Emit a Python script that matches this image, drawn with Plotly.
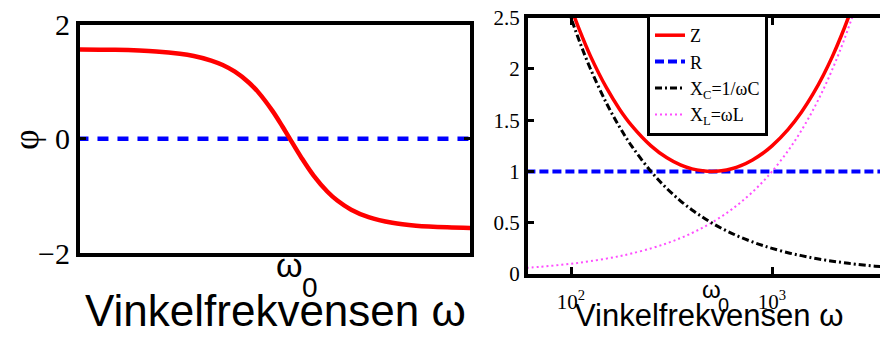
import numpy as np
import plotly.graph_objects as go

# ---------------- data ----------------
# left panel: phase angle vs angular frequency (log axis)
omega_left = [1, 3, 10, 20, 30, 50, 70, 100, 150, 200, 300, 400, 500, 700,
              1000, 1500, 2000, 3000, 5000, 10000, 20000, 50000, 100000]
phi_left = [1.567, 1.559, 1.531, 1.491, 1.451, 1.372, 1.293, 1.176, 0.988, 0.810,
            0.490, 0.221, 0.0, -0.330, -0.644, -0.927, -1.081, -1.241, -1.372,
            -1.471, -1.521, -1.551, -1.561]
omega_zero = [1, 100000]
zero_left = [0, 0]

# right panel: impedance components vs angular frequency (log axis)
omega_z = [90, 100, 110, 125, 150, 175, 200, 250, 300, 350, 400, 450, 500, 560,
           630, 700, 800, 900, 1000, 1200, 1400, 1600, 1800, 2000, 2200, 2400, 2600]
Z_vals = [2.868, 2.600, 2.383, 2.125, 1.817, 1.603, 1.450, 1.250, 1.133, 1.064,
          1.025, 1.006, 1.000, 1.007, 1.027, 1.057, 1.113, 1.178, 1.250, 1.409,
          1.578, 1.756, 1.939, 2.125, 2.314, 2.504, 2.696]

omega_r = [60, 4000]
R_vals = [1, 1]

omega_x = [60, 70, 80, 90, 100, 110, 125, 150, 175, 200, 250, 300, 350, 400, 450,
           500, 560, 630, 700, 800, 900, 1000, 1200, 1400, 1600, 1800, 2000, 2200,
           2400, 2600, 3000, 3600, 4000]
XC_vals = [4.167, 3.571, 3.125, 2.778, 2.500, 2.273, 2.000, 1.667, 1.429, 1.250,
           1.000, 0.833, 0.714, 0.625, 0.556, 0.500, 0.446, 0.397, 0.357, 0.3125,
           0.278, 0.250, 0.208, 0.179, 0.156, 0.139, 0.125, 0.114, 0.104, 0.096,
           0.083, 0.069, 0.0625]
XL_vals = [0.060, 0.070, 0.080, 0.090, 0.100, 0.110, 0.125, 0.150, 0.175, 0.200,
           0.250, 0.300, 0.350, 0.400, 0.450, 0.500, 0.560, 0.630, 0.700, 0.800,
           0.900, 1.000, 1.200, 1.400, 1.600, 1.800, 2.000, 2.200, 2.400, 2.600,
           3.000, 3.600, 4.000]

omega0 = 500
xtick_vals_right = [100, 1000]
xtick_text_right = ['10<sup>2</sup>', '10<sup>3</sup>']
ytick_vals_left = [-2, 0, 2]

SERIF = 'Liberation Serif'
SANS = 'Liberation Sans'

# the page body has an 8px margin: size the figure to fill the rest of the window
OFF = 8
W, H = 888 - OFF, 338 - OFF
def fx(p):   # page pixel x -> paper fraction
    return (p - OFF) / W
def fy(p):   # page pixel y -> paper fraction
    return 1 - (p - OFF) / H

fig = go.Figure()

# left panel
fig.add_trace(go.Scatter(x=omega_zero, y=zero_left, mode='lines', xaxis='x', yaxis='y',
                         line=dict(color='#0000ff', width=4.5, dash='11px,9px'),
                         showlegend=False, hoverinfo='skip'))
fig.add_trace(go.Scatter(x=omega_left, y=phi_left, mode='lines', xaxis='x', yaxis='y',
                         line=dict(color='#ff0000', width=4.5, shape='spline'),
                         showlegend=False))

# right panel
fig.add_trace(go.Scatter(x=omega_r, y=R_vals, mode='lines', xaxis='x2', yaxis='y2', name='R',
                         line=dict(color='#0000ff', width=4, dash='9px,4px'), legendrank=2))
fig.add_trace(go.Scatter(x=omega_x, y=XL_vals, mode='lines', xaxis='x2', yaxis='y2',
                         name='X<sub>L</sub>=ωL',
                         line=dict(color='#ff4dff', width=2, dash='2px,3px', shape='spline'),
                         legendrank=4))
fig.add_trace(go.Scatter(x=omega_x, y=XC_vals, mode='lines', xaxis='x2', yaxis='y2',
                         name='X<sub>C</sub>=1/ωC',
                         line=dict(color='#000000', width=3, dash='7px,3px,2px,3px', shape='spline'),
                         legendrank=3))
fig.add_trace(go.Scatter(x=omega_z, y=Z_vals, mode='lines', xaxis='x2', yaxis='y2', name='Z',
                         line=dict(color='#ff0000', width=3.5, shape='spline'), legendrank=1))
# carrier for the mirrored right-hand ticks
fig.add_trace(go.Scatter(x=omega_r, y=R_vals, mode='lines', xaxis='x2', yaxis='y3',
                         line=dict(width=0), opacity=0, showlegend=False, hoverinfo='skip'))

fig.update_layout(
    width=W, height=H, autosize=False,
    margin=dict(l=0, r=0, t=0, b=0, pad=0),
    paper_bgcolor='white', plot_bgcolor='white',
    xaxis=dict(type='log', range=[0.032, 4.987], domain=[fx(80), fx(470)], anchor='y',
               showline=True, linewidth=4, linecolor='black', mirror=True, automargin=False,
               showgrid=False, zeroline=False, ticks='', showticklabels=False),
    yaxis=dict(range=[-2, 2], tickvals=ytick_vals_left, domain=[fy(253), fy(24.7)], anchor='x',
               showline=True, linewidth=4, linecolor='black', mirror='ticks', automargin=False,
               ticks='inside', ticklen=6, tickwidth=3, tickcolor='black',
               tickfont=dict(family=SERIF, size=30, color='black'),
               ticklabeloverflow='allow',
               showgrid=False, zeroline=False),
    xaxis2=dict(type='log', range=[1.786, 3.577], domain=[fx(528), 1.0], anchor='y2',
                showline=True, linewidth=4, linecolor='black', mirror='ticks', automargin=False,
                ticks='inside', ticklen=7, tickwidth=3, tickcolor='black',
                tickvals=xtick_vals_right, ticktext=xtick_text_right,
                tickfont=dict(family=SERIF, size=21, color='black'),
                ticklabelstandoff=6, ticklabeloverflow='allow',
                showgrid=False, zeroline=False),
    yaxis2=dict(range=[0, 2.5], dtick=0.5, tick0=0, domain=[fy(274), fy(17.7)], anchor='x2',
                showline=True, linewidth=4, linecolor='black', mirror=False, automargin=False,
                ticks='inside', ticklen=6, tickwidth=3, tickcolor='black',
                tickfont=dict(family=SERIF, size=21, color='black'),
                ticklabeloverflow='allow',
                showgrid=False, zeroline=False),
    yaxis3=dict(range=[0, 2.5], dtick=0.5, tick0=0, overlaying='y2', anchor='free',
                position=1.0, side='right', showline=False, ticks='inside', ticklen=5,
                tickwidth=3, tickcolor='black', showticklabels=False, automargin=False,
                showgrid=False, zeroline=False),
    legend=dict(x=fx(647), y=fy(14), xanchor='left', yanchor='top',
                bgcolor='white', bordercolor='black', borderwidth=3,
                font=dict(family=SERIF, size=18, color='black'),
                itemwidth=30, tracegroupgap=0),
    showlegend=True,
)

annotations = [
    dict(text='ω', x=np.log10(omega0), xref='x', y=fy(265), yref='paper',
         showarrow=False, font=dict(family=SANS, size=34, color='black'),
         xanchor='center', yanchor='middle'),
    dict(text='0', x=np.log10(omega0), xref='x', xshift=20, y=fy(287), yref='paper',
         showarrow=False, font=dict(family=SANS, size=28, color='black'),
         xanchor='center', yanchor='middle'),
    dict(text='ω', x=np.log10(omega0), xref='x2', y=fy(289), yref='paper',
         showarrow=False, font=dict(family=SANS, size=24, color='black'),
         xanchor='center', yanchor='middle'),
    dict(text='0', x=np.log10(omega0), xref='x2', xshift=12, y=fy(304.5), yref='paper',
         showarrow=False, font=dict(family=SANS, size=20, color='black'),
         xanchor='center', yanchor='middle'),
    dict(text='Vinkelfrekvensen ω', x=fx(275), xref='paper', y=fy(310), yref='paper',
         showarrow=False, font=dict(family=SANS, size=44, color='black'),
         xanchor='center', yanchor='middle'),
    dict(text='Vinkelfrekvensen ω', x=fx(709), xref='paper', y=fy(315.5), yref='paper',
         showarrow=False, font=dict(family=SANS, size=31, color='black'),
         xanchor='center', yanchor='middle'),
    dict(text='φ', x=fx(26), xref='paper', y=fy(140), yref='paper', textangle=-90,
         showarrow=False, font=dict(family=SERIF, size=36, color='black'),
         xanchor='center', yanchor='middle'),
]
fig.update_layout(annotations=annotations)

fig.write_html("out.html")
